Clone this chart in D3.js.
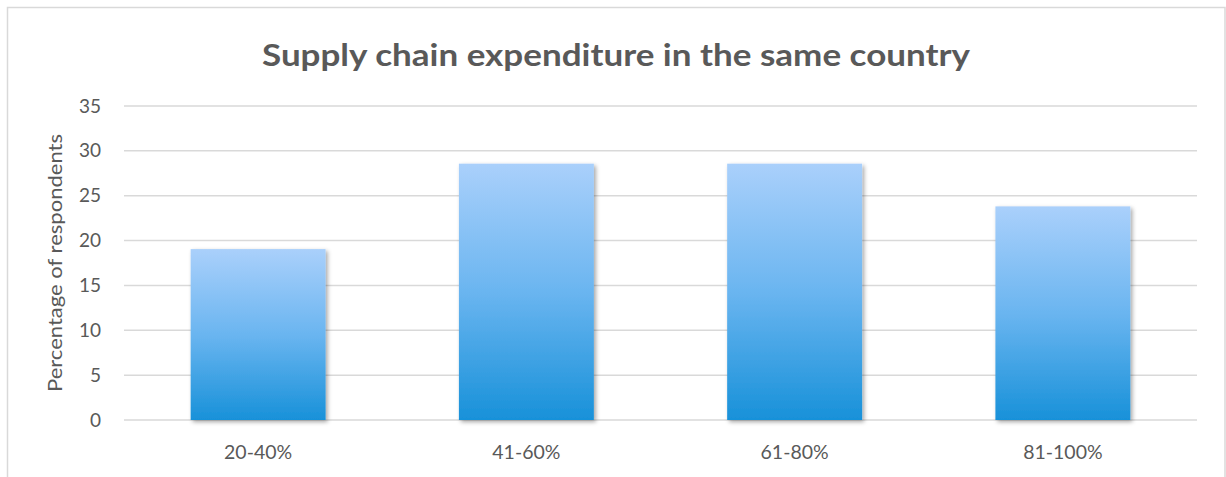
<!DOCTYPE html>
<html>
<head>
<meta charset="utf-8">
<script src="https://cdn.jsdelivr.net/npm/d3@7"></script>
<style>
  html, body { margin: 0; padding: 0; background: #fff; }
  svg { display: block; }
</style>
</head>
<body>
<svg id="chart" width="1226" height="477"></svg>
<script>
// Data
const categories = ["20-40%", "41-60%", "61-80%", "81-100%"];
const values = [19.05, 28.57, 28.57, 23.81];
const yTicks = [0, 5, 10, 15, 20, 25, 30, 35];
const chartTitle = "Supply chain expenditure in the same country";
const yAxisTitle = "Percentage of respondents";
const captionPrefix = "Figure 5: ";
const captionBody = "Supply chain expenditure in the same country of company";

const svg = d3.select("#chart");
const plot = { left: 124, right: 1197, top: 106, bottom: 420 };
const labelFont = "Lato, Open Sans, sans-serif";

// Gradient and shadow definitions for the bars
const defs = svg.append("defs");
const grad = defs.append("linearGradient")
  .attr("id", "barGrad").attr("x1", 0).attr("y1", 0).attr("x2", 0).attr("y2", 1);
grad.append("stop").attr("offset", "0%").attr("stop-color", "#aad0fb");
grad.append("stop").attr("offset", "50%").attr("stop-color", "#6ab5f0");
grad.append("stop").attr("offset", "100%").attr("stop-color", "#1891d9");

const shadow = defs.append("filter").attr("id", "barShadow")
  .attr("x", "-10%").attr("y", "-10%").attr("width", "130%").attr("height", "130%");
shadow.append("feDropShadow")
  .attr("dx", 2).attr("dy", 2).attr("stdDeviation", 2)
  .attr("flood-color", "#000").attr("flood-opacity", 0.35);

// Caption line sitting above the chart frame (only its descenders reach the page)
const caption = svg.append("text")
  .attr("y", -5.3)
  .attr("font-family", "Liberation Serif, Times New Roman, serif")
  .attr("font-style", "italic")
  .attr("font-size", 23)
  .attr("fill", "#444")
  .text(captionPrefix + captionBody);
const prefixLen = caption.node().getSubStringLength(0, captionPrefix.length);
caption.attr("x", 130 - prefixLen);

// Chart frame
svg.append("rect")
  .attr("x", 7.5).attr("y", 7.5)
  .attr("width", 1217.5).attr("height", 500)
  .attr("fill", "#fff")
  .attr("stroke", "#d9d9d9").attr("stroke-width", 1.5);

// Scales
const x = d3.scaleBand()
  .domain(categories)
  .range([plot.left, plot.right])
  .paddingInner(0.497).paddingOuter(0.2485);
const y = d3.scaleLinear().domain([0, 35]).range([plot.bottom, plot.top]);

// Gridlines
svg.append("g")
  .selectAll("line")
  .data(yTicks)
  .join("line")
  .attr("x1", plot.left).attr("x2", plot.right)
  .attr("y1", d => y(d)).attr("y2", d => y(d))
  .attr("stroke", "#d9d9d9").attr("stroke-width", 1.5);

// Y axis labels
const yAxis = d3.axisLeft(y).tickValues(yTicks).tickSize(0).tickPadding(0);
svg.append("g")
  .attr("transform", `translate(${plot.left - 23},0)`)
  .call(yAxis)
  .call(g => g.select(".domain").remove())
  .call(g => g.selectAll("text")
    .attr("font-family", labelFont)
    .attr("font-size", 19)
    .attr("fill", "#595959"));

// Bars
svg.append("g")
  .selectAll("rect")
  .data(values)
  .join("rect")
  .attr("x", (d, i) => x(categories[i]))
  .attr("width", x.bandwidth())
  .attr("y", d => y(d))
  .attr("height", d => y(0) - y(d))
  .attr("fill", "url(#barGrad)")
  .attr("filter", "url(#barShadow)");

// X axis labels
const xAxis = d3.axisBottom(x).tickSize(0).tickPadding(0);
svg.append("g")
  .attr("transform", `translate(0,${plot.bottom + 25})`)
  .call(xAxis)
  .call(g => g.select(".domain").remove())
  .call(g => g.selectAll("text")
    .attr("font-family", labelFont)
    .attr("font-size", 19.5)
    .attr("fill", "#595959"));

// Y axis title
svg.append("text")
  .attr("transform", `translate(62,263) rotate(-90)`)
  .attr("text-anchor", "middle")
  .attr("font-family", labelFont)
  .attr("font-size", 20)
  .attr("fill", "#595959")
  .attr("textLength", 258)
  .attr("lengthAdjust", "spacingAndGlyphs")
  .text(yAxisTitle);

// Chart title
svg.append("text")
  .attr("x", 616).attr("y", 66)
  .attr("text-anchor", "middle")
  .attr("font-family", labelFont)
  .attr("font-weight", "bold")
  .attr("font-size", 31)
  .attr("fill", "#595959")
  .attr("textLength", 708)
  .attr("lengthAdjust", "spacingAndGlyphs")
  .text(chartTitle);
</script>
</body>
</html>
